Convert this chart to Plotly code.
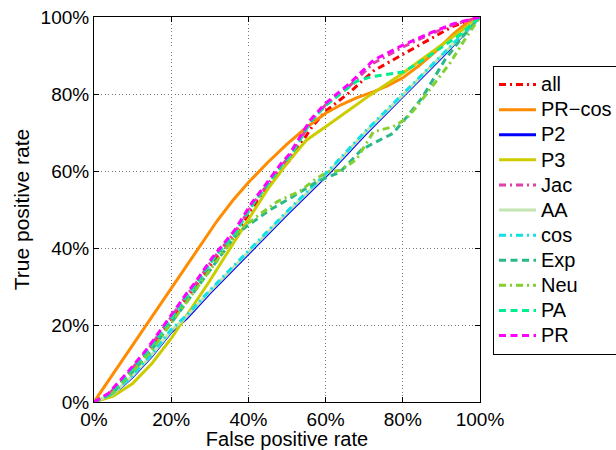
import plotly.graph_objects as go

# ---- data (percent) ----
pr_x = [0, 3.7, 8.4, 11, 13.2, 15.4, 17.5, 21.9, 24, 26.2, 30.5, 36.5, 40.8, 44.7, 48.2, 50.8, 56, 60, 66.3, 72.4, 80, 87, 93, 100]
pr_y = [0, 2.2, 7.4, 10.5, 13.1, 16.1, 19.1, 25.2, 28.2, 31, 37.3, 44.7, 51.6, 56.8, 61.6, 64.6, 73.2, 77.6, 82.8, 88.8, 92.7, 95.8, 98.2, 100]

all_x = [0, 4, 8.8, 11.5, 13.7, 16, 18, 22.4, 24.5, 26.7, 31, 37, 41.2, 45.2, 48.7, 51.3, 56.5, 60, 66.3, 72.4, 80, 87, 93, 100]
all_y = [0, 2, 7, 10, 12.6, 15.6, 18.5, 24.6, 27.6, 30.4, 36.6, 44, 50.6, 55.8, 60.5, 63.5, 71.5, 75.5, 80.5, 86, 90.3, 94.2, 97.6, 100]

prcos_x = [0, 10, 20, 24, 28, 32, 36, 40, 45, 50, 55, 60, 64, 68, 72.5, 76, 80, 84, 88, 93, 97, 100]
prcos_y = [0, 14.8, 29.5, 35.6, 41.6, 47.2, 52.4, 57, 62.2, 67, 71.3, 75, 77.2, 79, 80.6, 82.1, 84.2, 87.2, 90.6, 95.5, 98.8, 100]

p2_x = [0, 5, 10, 15, 20, 24, 30, 40, 50, 61, 70, 80, 90, 100]
p2_y = [0, 2, 6.6, 12, 18.2, 21.8, 28.3, 38.6, 48.8, 59.6, 69.3, 79.4, 89.5, 100]

p3_x = [0, 5, 10, 15, 20, 25, 30, 35, 40, 45, 50, 53, 55, 60, 65, 71.5, 80, 89, 100]
p3_y = [0, 1.5, 4.8, 10, 16.5, 24, 31.5, 39.5, 47.5, 55.3, 62, 65.5, 68, 71.5, 75, 79.7, 85.4, 92, 100]

jac_x = [0, 3.9, 8.6, 11.2, 13.4, 15.6, 17.7, 22.1, 24.2, 26.4, 30.7, 36.7, 41, 44.9, 48.4, 51, 56.2, 60, 66.3, 72.4, 80, 87, 93, 100]
jac_y = [0, 2.1, 7.2, 10.3, 12.9, 15.9, 18.9, 25, 28, 30.8, 37, 44.4, 51.2, 56.4, 61.2, 64.2, 72.8, 77.2, 82.2, 88, 92.2, 95.5, 98, 100]

aa_x = [0, 5, 10, 15, 20, 24, 30, 40, 50, 61, 70, 80, 90, 100]
aa_y = [0, 2.1, 6.8, 12.3, 18.5, 22.2, 28.7, 39, 49.2, 60, 69.7, 79.7, 89.8, 100]

cos_x = [0, 5, 10, 15, 20, 24, 30, 40, 50, 61, 70, 80, 90, 100]
cos_y = [0, 2.3, 7, 12.5, 18.8, 22.5, 29, 39.3, 49.5, 60.3, 70, 80, 90, 100]

exp_x = [0, 4.5, 9.2, 12, 14.2, 16.5, 18.5, 23, 25.2, 27.4, 31.7, 36.5, 39.5, 45.6, 51.6, 57.7, 63.7, 69.3, 72, 77.5, 81, 85, 88, 91, 95.6, 100]
exp_y = [0, 2, 7, 10, 12.6, 15.6, 18.5, 24.6, 27.6, 30.4, 36.5, 43, 45.6, 49.9, 53.4, 57.2, 59.7, 65.5, 67, 69.8, 74, 79, 84, 89, 95, 100]

neu_x = [0, 4.5, 9.2, 12, 14.2, 16.5, 18.5, 23, 25.2, 27.4, 31.7, 37.5, 42.2, 47.4, 53.4, 57.5, 60.4, 64, 68, 72.4, 77.5, 81, 83.6, 92.2, 96.6, 100]
neu_y = [0, 2, 7, 10, 12.6, 15.6, 18.5, 24.6, 27.6, 30.4, 36.5, 44.5, 48.2, 52, 54.8, 58, 59.7, 60.2, 63, 70.2, 71.5, 73.7, 76.7, 88, 95, 100]

pa_x = [0, 4.2, 8.9, 11.5, 13.7, 15.9, 18, 22.4, 24.5, 26.7, 31, 37, 41.2, 45.1, 48.6, 51.2, 56.3, 60, 64, 68, 72, 77, 80, 84, 89, 95, 100]
pa_y = [0, 2.1, 7.3, 10.4, 13, 16, 19, 25.1, 28.1, 30.9, 37.2, 44.6, 51.4, 56.6, 61.4, 64.4, 73, 77, 80.2, 83.3, 84.5, 85.3, 85.7, 88, 91.4, 95.5, 100]

tick_vals = [0, 20, 40, 60, 80, 100]
tick_text = ["0%", "20%", "40%", "60%", "80%", "100%"]

DASH = "7px,4.5px"
DASHDOT = "7px,4px,2px,4px"

series = [
    ("all", all_x, all_y, "#ff0000", DASHDOT),
    ("PR\u2212cos", prcos_x, prcos_y, "#ff8c00", "solid"),
    ("P2", p2_x, p2_y, "#0000ff", "solid"),
    ("P3", p3_x, p3_y, "#cccc00", "solid"),
    ("Jac", jac_x, jac_y, "#e040a8", DASHDOT),
    ("AA", aa_x, aa_y, "#c4e4b0", "solid"),
    ("cos", cos_x, cos_y, "#10e0e8", DASHDOT),
    ("Exp", exp_x, exp_y, "#2ab88a", DASH),
    ("Neu", neu_x, neu_y, "#84d030", DASHDOT),
    ("PA", pa_x, pa_y, "#00ee90", DASH),
    ("PR", pr_x, pr_y, "#ff00ff", DASH),
]

fig = go.Figure()
for name, xs, ys, col, dash in series:
    fig.add_trace(go.Scatter(
        x=xs, y=ys, mode="lines",
        name='<span style="font-size:20px">' + name + '</span>',
        line=dict(color=col, dash=dash, width=3)))

axis_common = dict(range=[0, 100], tickvals=tick_vals, ticktext=tick_text,
                   showgrid=True, gridcolor="#777777", griddash="1px,2.5px", gridwidth=1,
                   showline=True, linecolor="black", linewidth=1, mirror="ticks",
                   ticks="inside", ticklen=5, tickcolor="black", zeroline=False,
                   tickfont=dict(size=19, color="black"))

fig.update_layout(
    width=616, height=450,
    margin=dict(l=94, r=136, t=17, b=48, autoexpand=False),
    paper_bgcolor="white", plot_bgcolor="white",
    font=dict(family="Liberation Sans, Arial, sans-serif", color="black"),
    xaxis=dict(**axis_common, title=dict(text="False positive rate", font=dict(size=20), standoff=2)),
    yaxis=dict(**axis_common, title=dict(text="True positive rate", font=dict(size=21), standoff=5)),
    legend=dict(x=1.0337, y=0.8727, xanchor="left", yanchor="top",
                bgcolor="white", bordercolor="black", borderwidth=1,
                font=dict(size=17, color="black"), tracegroupgap=0, itemwidth=37),
    showlegend=True,
)

fig.write_html("out.html")
